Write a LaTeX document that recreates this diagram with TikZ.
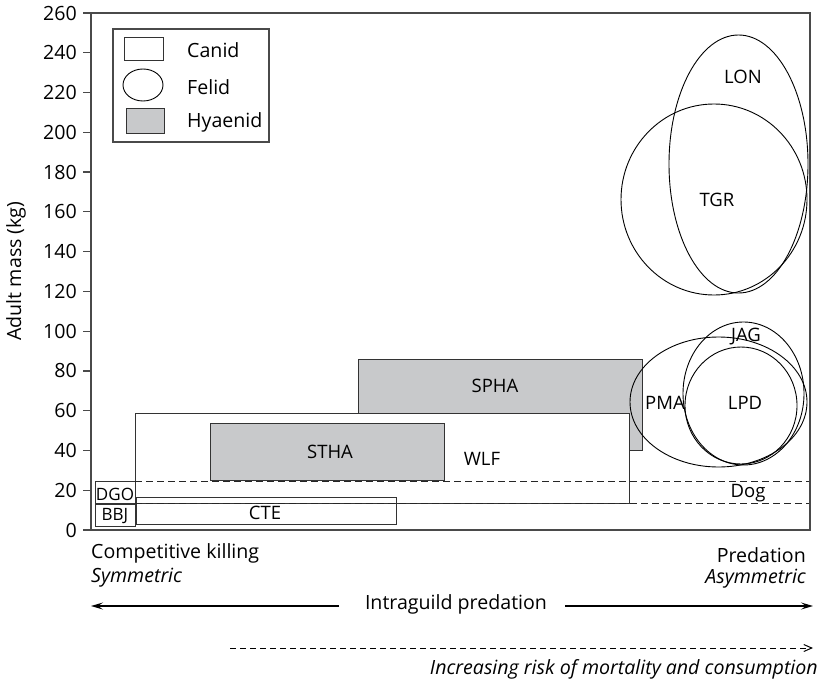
\documentclass[tikz,border=0pt]{standalone}
\usepackage{fontspec}
\setmainfont{Open Sans}
\usetikzlibrary{arrows.meta}
\definecolor{hyfill}{HTML}{C8C9CB}
\definecolor{framec}{HTML}{4A4A4A}
\begin{document}
\begin{tikzpicture}[x=1pt,y=-1pt,
  txt/.style={font=\fontsize{18.5}{21}\selectfont, inner sep=0pt},
  stxt/.style={font=\fontsize{17}{20}\selectfont, inner sep=0pt},
  btxt/.style={font=\fontsize{19.6}{22}\selectfont, inner sep=0pt},
  itxt/.style={font=\fontsize{19.6}{22}\selectfont\itshape, inner sep=0pt},
  framebox/.style={draw=framec, line width=1.3pt},
  canid/.style={draw=black!80, line width=1pt},
  hyaenid/.style={draw=black!80, line width=1pt, fill=hyfill},
  felid/.style={draw=black, line width=0.9pt},
  dogline/.style={draw=black!85, line width=1pt, dash pattern=on 7pt off 4pt},
  arr/.style={line width=1.6pt, -{Stealth[length=12pt,width=7pt,inset=5pt]}},
  darr/.style={line width=1pt, dash pattern=on 6pt off 4pt, -{Straight Barb[length=8pt,width=7pt]}}]
\useasboundingbox (0,0) rectangle (821,682);

% Hyaenid and canid ranges
\draw[hyaenid] (358,359) rectangle (642,450);
\draw[canid, fill=white] (135,413) rectangle (629,503);
\draw[hyaenid] (210,423) rectangle (444,480);
\draw[canid] (136,497) rectangle (396,524);
\draw[canid] (95,481) rectangle (135,503);
\draw[canid] (95,504) rectangle (135,526);
\coordinate (dogA1) at (135,481); \coordinate (dogB1) at (810,481);
\coordinate (dogA2) at (135,503); \coordinate (dogB2) at (810,503);
\draw[dogline] (dogA1) -- (dogB1);
\draw[dogline] (dogA2) -- (dogB2);

% Felid ranges
\draw[felid] (714,199.5) ellipse [x radius=93, y radius=95.5];
\draw[felid] (738.5,164) ellipse [x radius=69.5, y radius=129];
\draw[felid] (718.5,402) ellipse [x radius=88.5, y radius=65];
\draw[felid] (743.5,393.5) ellipse [x radius=60.5, y radius=71.5];
\draw[felid] (741,405.5) ellipse [x radius=56, y radius=58.5];

% labels
\node[stxt] (dgo) at (115,494) {DGO};
\node[stxt] (bbj) at (115,516) {BBJ};
\node[txt] (cte) at (265,513) {CTE};
\node[txt] (stha) at (330,452) {STHA};
\node[txt] (spha) at (495,386) {SPHA};
\node[txt] (wlf) at (482,459) {WLF};
\node[txt] (dog) at (748,493) {Dog};
\node[txt] (pma) at (665,403) {PMA};
\node[txt] (jag) at (746,337) {JAG};
\node[txt] (lpd) at (745,403) {LPD};
\node[txt] (tgr) at (717,200) {TGR};
\node[txt] (lon) at (743,77) {LON};

% frame and axis
\draw[framebox] (91,13) rectangle (810,530);
\foreach \v in {0,20,...,260} {
  \pgfmathsetmacro{\yy}{530-\v*1.98846}
  \draw[framec, line width=1.3pt] (83,\yy) -- (91,\yy);
  \node[btxt, anchor=east] (tick\v) at (77,\yy) {\v};
}
\node[btxt, rotate=90] (ylab) at (16,271) {Adult mass (kg)};

% legend
\draw[framec, line width=1.1pt] (113,29) rectangle (269,142);
\draw[canid] (124,38) rectangle (163,61);
\draw[felid] (143,85) ellipse [x radius=20, y radius=16];
\draw[hyaenid] (126,109) rectangle (164,133);
\node[btxt, anchor=west] (lgcanid) at (187,50) {Canid};
\node[btxt, anchor=west] (lgfelid) at (187,87) {Felid};
\node[btxt, anchor=west] (lghy) at (187,122) {Hyaenid};

% bottom annotations
\node[btxt, anchor=west] (ck) at (91,553) {Competitive killing};
\node[itxt, anchor=west] (sym) at (91,578) {Symmetric};
\node[btxt, anchor=east] (pred) at (806,555) {Predation};
\node[itxt, anchor=east] (asym) at (806,579) {Asymmetric};
\node[btxt] (igp) at (456,604) {Intraguild predation};
\coordinate (ls) at (339,606);
\coordinate (la) at (91,606);
\coordinate (rs) at (565,606);
\coordinate (ra) at (813,606);
\draw[arr] (ls) -- (la);
\draw[arr] (rs) -- (ra);
\coordinate (ds) at (230,648);
\coordinate (de) at (813,648);
\draw[darr] (ds) -- (de);
\node[itxt, anchor=east] (risk) at (818,669) {Increasing risk of mortality and consumption};
\end{tikzpicture}
\end{document}
